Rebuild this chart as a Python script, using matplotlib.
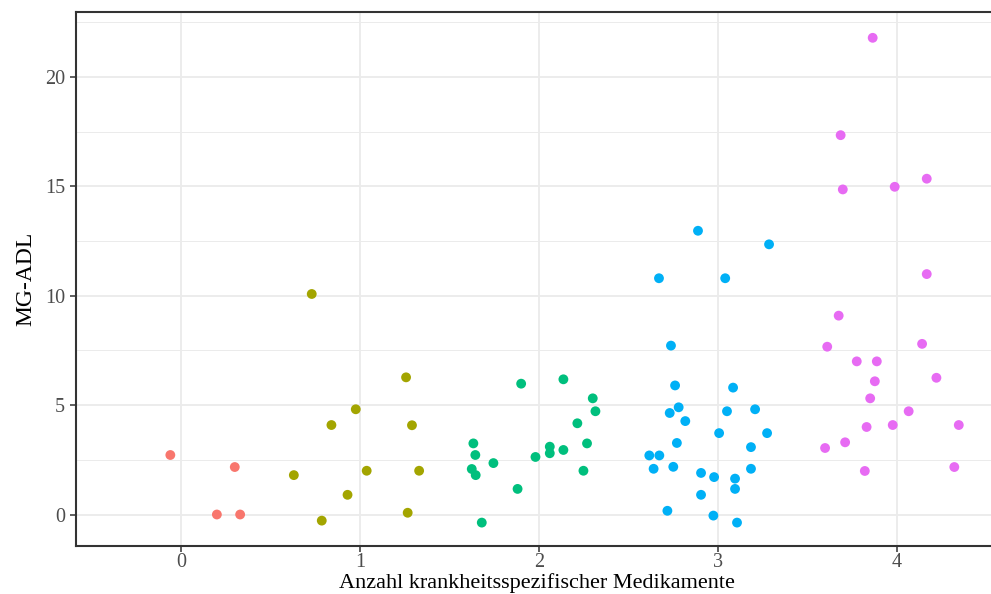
import matplotlib
matplotlib.use("Agg")
import matplotlib.pyplot as plt
from matplotlib.ticker import MultipleLocator

plt.rcParams['font.family'] = ['Liberation Serif', 'DejaVu Serif']

# Anzahl Medikamente (gejittert) und MG-ADL, je Gruppe 0..4
x0 = [-0.06, 0.30, 0.20, 0.33]
y0 = [2.72, 2.17, 0.0, 0.0]

x1 = [0.73, 0.63, 0.786, 0.84, 0.976, 1.257, 1.29, 1.037, 1.33, 0.93, 1.266]
y1 = [10.08, 1.8, -0.28, 4.09, 4.81, 6.27, 4.08, 2.0, 2.0, 0.9, 0.08]

x2 = [1.633, 1.644, 1.624, 1.646, 1.745, 1.68, 1.88, 1.90, 1.98, 2.06, 2.06,
      2.136, 2.136, 2.214, 2.248, 2.268, 2.30, 2.315]
y2 = [3.25, 2.72, 2.08, 1.8, 2.35, -0.37, 1.17, 5.98, 2.63, 3.1, 2.8,
      6.18, 2.95, 4.17, 2.0, 3.25, 5.31, 4.72]

x3 = [2.888, 3.285, 2.67, 3.04, 2.737, 2.76, 3.084, 2.78, 2.73, 3.05, 3.207,
      2.817, 3.006, 3.274, 2.77, 3.184, 2.616, 2.672, 2.64, 2.75, 3.184,
      2.905, 2.978, 3.095, 3.095, 2.905, 2.717, 2.974, 3.106]
y3 = [12.97, 12.35, 10.8, 10.8, 7.72, 5.9, 5.8, 4.9, 4.64, 4.72, 4.81,
      4.27, 3.72, 3.72, 3.27, 3.08, 2.7, 2.7, 2.09, 2.18, 2.09,
      1.9, 1.71, 1.64, 1.17, 0.9, 0.17, -0.05, -0.37]

x4 = [3.864, 3.685, 3.697, 3.987, 4.166, 4.166, 3.674, 3.61, 4.14, 3.775,
      3.887, 4.22, 3.876, 3.85, 4.065, 3.83, 3.976, 4.345, 3.71, 3.598,
      3.82, 4.32]
y4 = [21.79, 17.34, 14.86, 14.98, 15.35, 10.99, 9.09, 7.67, 7.8, 7.0,
      7.0, 6.25, 6.09, 5.31, 4.72, 4.0, 4.09, 4.09, 3.3, 3.04,
      1.99, 2.17]

gruppen = [(x0, y0), (x1, y1), (x2, y2), (x3, y3), (x4, y4)]
farben = ['#F8766D', '#A3A500', '#00BF7D', '#00B0F6', '#E76BF3']

fig = plt.figure(figsize=(9.91, 5.94), dpi=100)
ax = fig.add_axes([0.0767, 0.0808, 0.9233, 0.899])

for (xs, ys), c in zip(gruppen, farben):
    ax.scatter(xs, ys, s=50, color=c, edgecolors='none', zorder=3)

ax.set_xlim(-0.587, 4.525)
ax.set_ylim(-1.44, 22.97)
ax.set_xticks([0, 1, 2, 3, 4])
ax.yaxis.set_major_locator(MultipleLocator(5))
ax.yaxis.set_minor_locator(MultipleLocator(2.5))

ax.grid(True, which='major', color='#EBEBEB', linewidth=1.3, zorder=0)
ax.grid(True, which='minor', axis='y', color='#EBEBEB', linewidth=0.7, zorder=0)
ax.set_axisbelow(True)

for s in ['left', 'top', 'bottom']:
    ax.spines[s].set_color('#333333')
    ax.spines[s].set_linewidth(1.5)
ax.spines['right'].set_visible(False)

ax.tick_params(axis='both', which='major', length=4, width=1.1, color='#333333',
               labelsize=14.5, labelcolor='#4D4D4D')
ax.tick_params(axis='x', which='major', pad=1)
ax.tick_params(axis='y', which='major', pad=4)
ax.tick_params(axis='y', which='minor', length=0)

# Achsentitel unten fest platzieren, damit er nicht abgeschnitten wird
fig.text(0.5415, 6 / 594, 'Anzahl krankheitsspezifischer Medikamente',
         fontsize=16, ha='center', va='baseline')
ax.set_ylabel('MG-ADL', fontsize=17, labelpad=6)

fig.savefig('out.png', dpi=100)
